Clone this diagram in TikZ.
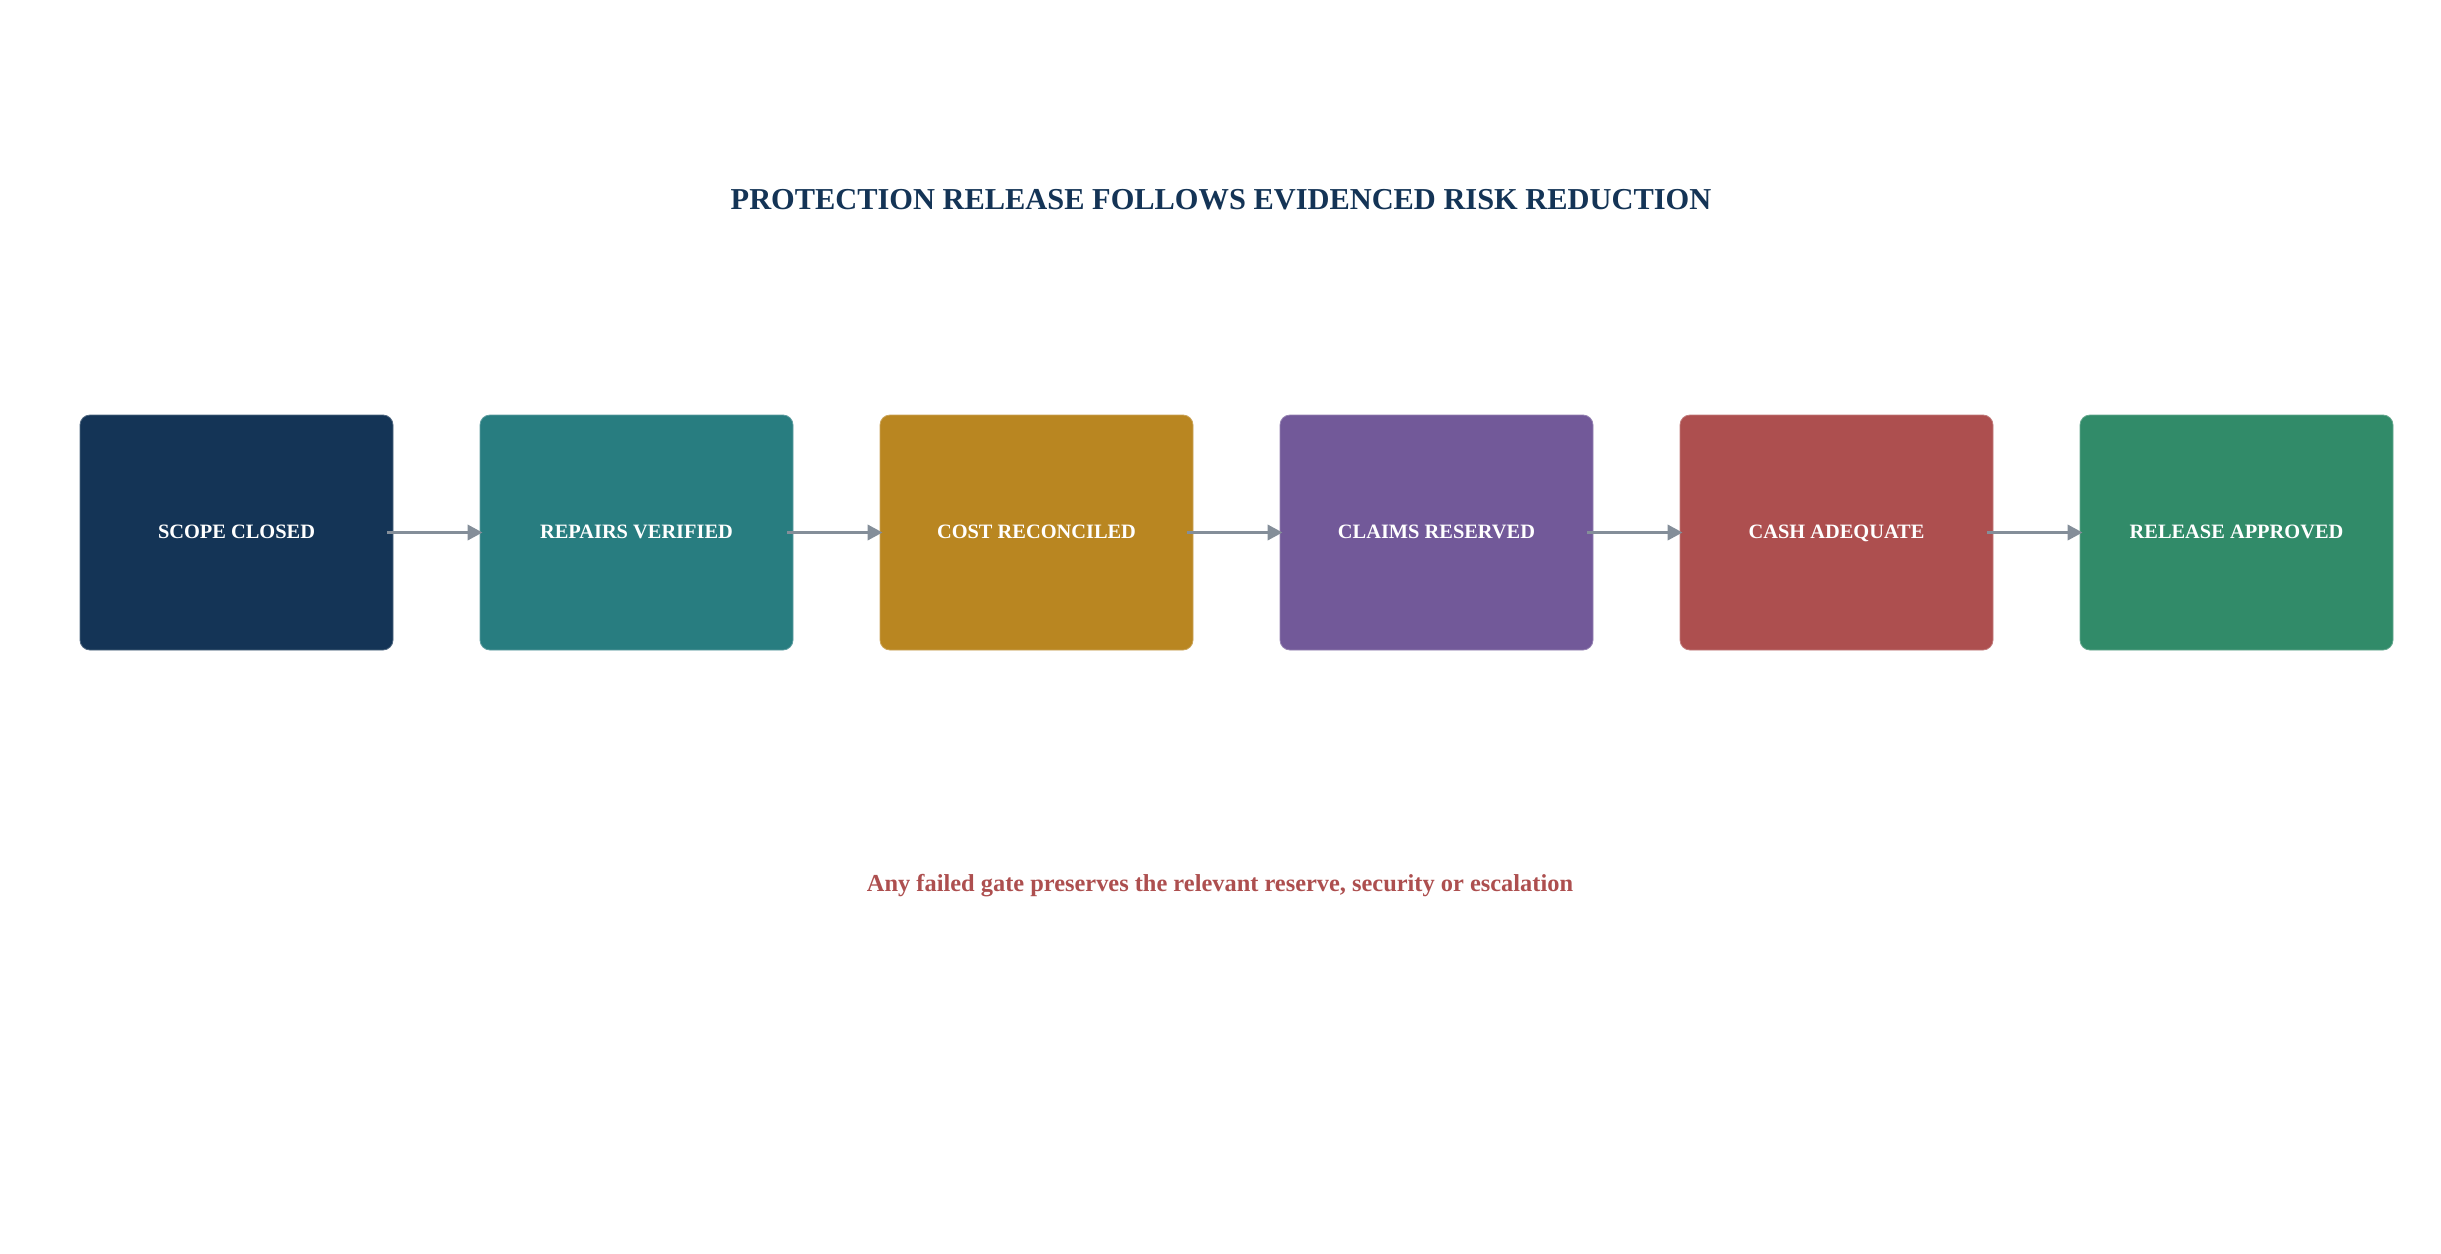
\documentclass[tikz,border=0pt]{standalone}
\usepackage{fontspec}
\setmainfont{Liberation Serif}
\usetikzlibrary{arrows.meta}
\definecolor{cnavy}{HTML}{143456}
\definecolor{cteal}{HTML}{287D80}
\definecolor{cgold}{HTML}{B98621}
\definecolor{cpurple}{HTML}{725999}
\definecolor{cred}{HTML}{AD4F4F}
\definecolor{cgreen}{HTML}{318B69}
\definecolor{carrow}{HTML}{848E99}
\tikzset{
  gatebox/.style={rectangle, rounded corners=10pt, minimum width=313pt, minimum height=235pt,
    inner sep=0pt, fill=#1, draw=#1!75!white, line width=0.8pt, text=white,
    text height=11pt, text depth=0pt,
    font=\fontsize{20.4}{24}\selectfont\bfseries},
  flow/.style={draw=carrow, line width=3.5pt, -{Triangle[length=15pt,width=15pt]},
    shorten <=-6pt, shorten >=-3pt},
  titletext/.style={text=cnavy, font=\fontsize{30.4}{36}\selectfont\bfseries},
  notetext/.style={text=cred, font=\fontsize{24.4}{29}\selectfont\bfseries}
}
\begin{document}
\begin{tikzpicture}[x=1pt,y=-1pt]
\useasboundingbox[fill=white] (0,0) rectangle (2441,1253);
\node[titletext] (title) at (1221,199.5) {PROTECTION RELEASE FOLLOWS EVIDENCED RISK REDUCTION};
\node[gatebox=cnavy] (b1) at (236.5,532.5) {SCOPE CLOSED};
\node[gatebox=cteal] (b2) at (636.5,532.5) {REPAIRS VERIFIED};
\node[gatebox=cgold] (b3) at (1036.5,532.5) {COST RECONCILED};
\node[gatebox=cpurple] (b4) at (1436.5,532.5) {CLAIMS RESERVED};
\node[gatebox=cred] (b5) at (1836.5,532.5) {CASH ADEQUATE};
\node[gatebox=cgreen] (b6) at (2236.5,532.5) {RELEASE APPROVED};
\draw[flow] (b1.east) -- (b2.west);
\draw[flow] (b2.east) -- (b3.west);
\draw[flow] (b3.east) -- (b4.west);
\draw[flow] (b4.east) -- (b5.west);
\draw[flow] (b5.east) -- (b6.west);
\node[notetext] (note) at (1220,886) {Any failed gate preserves the relevant reserve, security or escalation};
\end{tikzpicture}
\end{document}
